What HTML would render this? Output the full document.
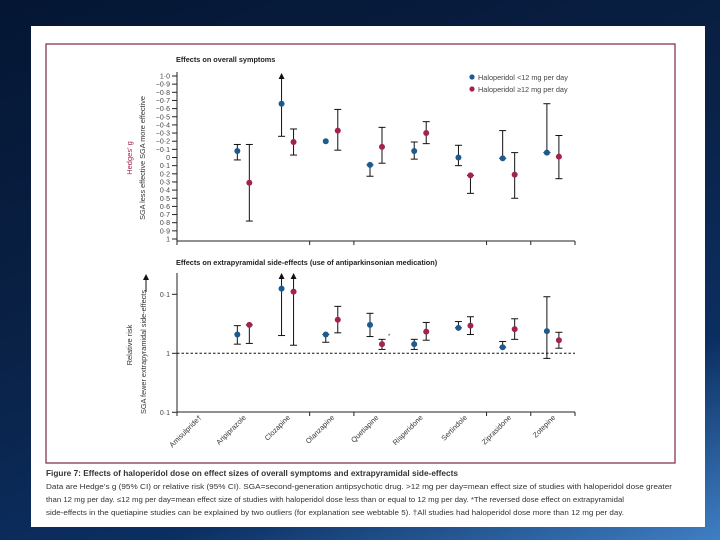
<!DOCTYPE html>
<html><head><meta charset="utf-8"><style>
html,body{margin:0;padding:0;width:720px;height:540px;overflow:hidden}
body{background:linear-gradient(160deg,#041633 0%,#0a2247 45%,#0b2f62 75%,#3f7fc4 100%);font-family:"Liberation Sans",sans-serif}
svg{position:absolute;left:0;top:0}
</style></head><body>
<svg id="c" width="720" height="540" font-family="Liberation Sans, sans-serif">
<rect x="31" y="26" width="674" height="501" fill="#fff"/>
<rect x="46" y="44" width="629" height="419" fill="none" stroke="#7a2446" stroke-width="1.2"/>
<g id="top"></g>
<g id="bot"></g>
<g fill="#333">
<text x="46" y="476" font-size="8.5" font-weight="bold" textLength="412" lengthAdjust="spacingAndGlyphs">Figure 7: Effects of haloperidol dose on effect sizes of overall symptoms and extrapyramidal side-effects</text>
<text x="46" y="489" font-size="7.3" textLength="626" lengthAdjust="spacingAndGlyphs">Data are Hedge’s g (95% CI) or relative risk (95% CI). SGA=second-generation antipsychotic drug. &gt;12 mg per day=mean effect size of studies with haloperidol dose greater</text>
<text x="46" y="502" font-size="7.3" textLength="578" lengthAdjust="spacingAndGlyphs">than 12 mg per day. ≤12 mg per day=mean effect size of studies with haloperidol dose less than or equal to 12 mg per day. *The reversed dose effect on extrapyramidal</text>
<text x="46" y="515" font-size="7.3" textLength="578" lengthAdjust="spacingAndGlyphs">side-effects in the quetiapine studies can be explained by two outliers (for explanation see webtable 5). †All studies had haloperidol dose more than 12 mg per day.</text>
</g>
</svg>
<script>
const categories=["Amisulpride†","Aripiprazole","Clozapine","Olanzapine","Quetiapine","Risperidone","Sertindole","Ziprasidone","Zotepine"];
const topBlue=[null,-0.08,-0.66,-0.20,0.09,-0.08,0.00,0.01,-0.06];
const topBlueLo=[null,-0.16,-1.2,-0.20,0.09,-0.19,-0.15,-0.33,-0.66];
const topBlueHi=[null,0.03,-0.26,-0.20,0.23,0.02,0.10,0.01,-0.06];
const topRed=[null,0.31,-0.19,-0.33,-0.13,-0.30,0.22,0.21,-0.01];
const topRedLo=[null,-0.16,-0.35,-0.59,-0.37,-0.44,0.22,-0.06,-0.27];
const topRedHi=[null,0.78,-0.03,-0.09,0.07,-0.17,0.44,0.50,0.26];
const topTickVals=[-1,-0.9,-0.8,-0.7,-0.6,-0.5,-0.4,-0.3,-0.2,-0.1,0,0.1,0.2,0.3,0.4,0.5,0.6,0.7,0.8,0.9,1];
const topTickLabels=["1·0","−0·9","−0·8","−0·7","−0·6","−0·5","−0·4","−0·3","−0·2","−0·1","0","0·1","0·2","0·3","0·4","0·5","0·6","0·7","0·8","0·9","1"];
const botBlue=[null,0.48,0.080,0.48,0.33,0.70,0.37,0.79,0.42];
const botBlueLo=[null,0.34,0.01,0.48,0.21,0.58,0.29,0.63,0.11];
const botBlueHi=[null,0.70,0.50,0.65,0.52,0.86,0.37,0.79,1.22];
const botRed=[null,0.33,0.090,0.27,0.70,0.43,0.34,0.39,0.60];
const botRedLo=[null,0.33,0.01,0.16,0.58,0.30,0.24,0.26,0.44];
const botRedHi=[null,0.68,0.73,0.45,0.86,0.60,0.48,0.58,0.82];
const botTickVals=[0.1,1,10];
const botTickLabels=["0·1","1","0·1"];

const NS="http://www.w3.org/2000/svg";
function mk(p,t,a){const e=document.createElementNS(NS,t);for(const k in a)e.setAttribute(k,a[k]);p.appendChild(e);return e;}
const X0=177,X1=575,BLUE="#1d5a8e",RED="#a3244b";
const xc=i=>X0+(i+0.5)*(X1-X0)/categories.length;
const yTop=v=>157.5+v*81.5;
const yBot=v=>353.3+59*Math.log10(v);
const TOPMIN=74,BOTMIN=274;

function axes(g,y0,y1,ticks,labels,ys){
 let e=mk(g,'line',{x1:X0,y1:y0,x2:X0,y2:y1,stroke:'#222','stroke-width':1});
 
 e=mk(g,'line',{x1:X0,y1:y1,x2:X1,y2:y1,stroke:'#222','stroke-width':1});
 
 [0,3,4,7,8,9].forEach(k=>{const x=X0+k*(X1-X0)/9;const t=mk(g,'line',{x1:x,y1:y1,x2:x,y2:y1+4,stroke:'#222'});
  });
 ticks.forEach((v,i)=>{const y=ys(v);
  const t=mk(g,'line',{x1:X0-5,y1:y,x2:X0,y2:y,stroke:'#222'});
  
  const l=mk(g,'text',{x:X0-7,y:y+2.5,'font-size':7,'text-anchor':'end',fill:'#444'});l.textContent=labels[i];
  });
}
function series(g,vals,lo,hi,col,dx,ys,ymin,name){
 vals.forEach((v,i)=>{if(v==null)return;const x=xc(i)+dx;
  let a=ys(lo[i]),b=ys(hi[i]);let arrow=false;if(a<ymin){a=ymin;arrow=true;}
  if(b-a>0.5){const l=mk(g,'line',{x1:x,y1:a,x2:x,y2:b,stroke:'#111','stroke-width':1});
   
   [a,b].forEach((yy,j)=>{if(j==0&&arrow)return;const c=mk(g,'line',{x1:x-3.5,y1:yy,x2:x+3.5,y2:yy,stroke:'#111','stroke-width':1});
    });
   if(arrow){const p=mk(g,'path',{d:`M${x-3},${a+5}L${x},${a-1}L${x+3},${a+5}Z`,fill:'#111'});
    }}
  const c=mk(g,'circle',{cx:x,cy:ys(v),r:3,fill:col});
  });
}
function txt(g,x,y,s,size,fill,extra,name){const t=mk(g,'text',Object.assign({x:x,y:y,'font-size':size,fill:fill},extra||{}));t.textContent=s;
 return t;}

const T=document.getElementById('top');
txt(T,176,62,"Effects on overall symptoms",7.3,'#222',{'font-weight':'bold'},'top-chart-title');
axes(T,72,241,topTickVals,topTickLabels,yTop);
txt(T,132,158,"Hedges' g",7.5,'#a3244b',{'text-anchor':'middle',transform:'rotate(-90 132 158)'},'top-y-axis-title');
txt(T,145,158,"SGA less effective    SGA more effective",7.3,'#333',{'text-anchor':'middle',transform:'rotate(-90 145 158)'},'top-y-axis-subtitle');
series(T,topBlue,topBlueLo,topBlueHi,BLUE,-6,yTop,TOPMIN,'blue-low-dose');
series(T,topRed,topRedLo,topRedHi,RED,6,yTop,TOPMIN,'red-high-dose');
let lg=mk(T,'circle',{cx:472,cy:77,r:2.6,fill:BLUE});
txt(T,478,80,"Haloperidol <12 mg per day",7.3,'#444',{},'legend-blue-label');
lg=mk(T,'circle',{cx:472,cy:89,r:2.6,fill:RED});
txt(T,478,92,"Haloperidol ≥12 mg per day",7.3,'#444',{},'legend-red-label');

const B=document.getElementById('bot');
txt(B,176,265,"Effects on extrapyramidal side-effects (use of antiparkinsonian medication)",7.3,'#222',{'font-weight':'bold'},'bottom-chart-title');
axes(B,273,412,botTickVals,botTickLabels,yBot);
let d=mk(B,'line',{x1:X0,y1:yBot(1),x2:X1,y2:yBot(1),stroke:'#111','stroke-dasharray':'2.5,2'});

txt(B,132,345,"Relative risk",7.5,'#333',{'text-anchor':'middle',transform:'rotate(-90 132 345)'},'bottom-y-axis-title');
txt(B,146,352,"SGA fewer extrapyramidal side-effects",7.3,'#333',{'text-anchor':'middle',transform:'rotate(-90 146 352)'},'bottom-y-axis-subtitle');
d=mk(B,'line',{x1:146,y1:292,x2:146,y2:280,stroke:'#111'});
d=mk(B,'path',{d:'M143,280L146,274L149,280Z',fill:'#111'});
series(B,botBlue,botBlueLo,botBlueHi,BLUE,-6,yBot,BOTMIN,'blue-low-dose');
series(B,botRed,botRedLo,botRedHi,RED,6,yBot,BOTMIN,'red-high-dose');
txt(B,xc(4)+12,338,"*",6,'#333',{},'quetiapine-footnote-mark');
categories.forEach((c,i)=>{const x=xc(i)+3,y=418;
 txt(B,x,y,c,7.3,'#333',{'text-anchor':'end',transform:`rotate(-45 ${x} ${y})`},'category-label');});
</script>
</body></html>
